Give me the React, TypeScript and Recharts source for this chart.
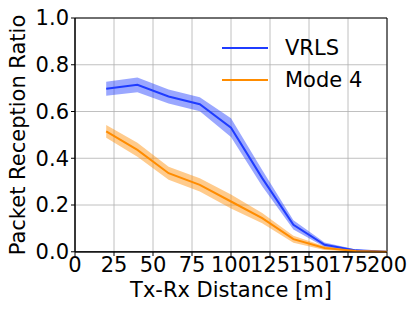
import { ComposedChart, Line, Area, XAxis, YAxis, CartesianGrid, ReferenceArea, Label } from 'recharts';

const distances = [20, 40, 60, 80, 100, 120, 140, 160, 180, 200];
const vrlsMean = [0.697, 0.714, 0.664, 0.631, 0.531, 0.315, 0.115, 0.03, 0.006, 0.0];
const vrlsSpread = [0.03, 0.032, 0.03, 0.03, 0.04, 0.035, 0.02, 0.01, 0.004, 0.001];
const mode4Mean = [0.515, 0.436, 0.336, 0.286, 0.215, 0.144, 0.054, 0.016, 0.003, 0.0];
const mode4Spread = [0.027, 0.03, 0.028, 0.028, 0.03, 0.022, 0.015, 0.008, 0.003, 0.001];
const xTicks = [0, 25, 50, 75, 100, 125, 150, 175, 200];
const yTicks = [0, 0.2, 0.4, 0.6, 0.8, 1.0];
const seriesNames = ['VRLS', 'Mode 4'];

const blue = '#1f3cff';
const orange = '#ff8c00';
const font = 'DejaVu Sans';
const fs = 21;

const chartData = distances.map((d, i) => ({
    distance: d,
    vrls: vrlsMean[i],
    vrlsBand: [vrlsMean[i] - vrlsSpread[i], vrlsMean[i] + vrlsSpread[i]],
    mode4: mode4Mean[i],
    mode4Band: [mode4Mean[i] - mode4Spread[i], mode4Mean[i] + mode4Spread[i]],
}));

function LegendBox() {
    const colors = [blue, orange];
    return (
        <div style={{ position: 'absolute', left: 222, top: 32, fontFamily: font, fontSize: fs, color: '#000' }}>
            {seriesNames.map((name, i) => (
                <div key={name} style={{ display: 'flex', alignItems: 'center', height: 32 }}>
                    <div style={{ width: 46, height: 2, background: colors[i], marginRight: 17 }} />
                    <span>{name}</span>
                </div>
            ))}
        </div>
    );
}

export default function App() {
    return (
        <div style={{ position: 'fixed', left: 0, top: 0, width: 415, height: 311, background: '#fff' }}>
            <ComposedChart
                width={415}
                height={311}
                data={chartData}
                margin={{ top: 18, right: 28, left: 0, bottom: 0 }}
                style={{ fontFamily: font }}
            >
                <CartesianGrid stroke="#b0b0b0" strokeWidth={0.8} />
                <XAxis
                    dataKey="distance"
                    type="number"
                    domain={[0, 200]}
                    ticks={xTicks}
                    height={59}
                    stroke="#000"
                    tickSize={4}
                    tick={{ fill: '#000', fontSize: fs }}
                    tickMargin={1}
                    interval={0}
                >
                    <Label value="Tx-Rx Distance [m]" position="insideBottom" offset={14} fill="#000" fontSize={fs} />
                </XAxis>
                <YAxis
                    type="number"
                    domain={[0, 1]}
                    ticks={yTicks}
                    width={75}
                    stroke="#000"
                    tickSize={4}
                    tick={{ fill: '#000', fontSize: fs }}
                    tickFormatter={(v: number) => v.toFixed(1)}
                >
                    <Label
                        content={() => (
                            <text x={18} y={135} transform="rotate(-90 18 135)" textAnchor="middle" dominantBaseline="central" fill="#000" fontSize={fs}>
                                Packet Reception Ratio
                            </text>
                        )}
                    />
                </YAxis>
                <ReferenceArea x1={0} x2={200} y1={0} y2={1} stroke="#000" strokeWidth={1} fill="none" fillOpacity={0} />
                <Area dataKey="vrlsBand" stroke="none" fill={blue} fillOpacity={0.45} isAnimationActive={false} />
                <Area dataKey="mode4Band" stroke="none" fill={orange} fillOpacity={0.45} isAnimationActive={false} />
                <Line dataKey="vrls" name={seriesNames[0]} stroke={blue} strokeWidth={2} dot={false} isAnimationActive={false} />
                <Line dataKey="mode4" name={seriesNames[1]} stroke={orange} strokeWidth={2} dot={false} isAnimationActive={false} />
            </ComposedChart>
            <LegendBox />
        </div>
    );
}
